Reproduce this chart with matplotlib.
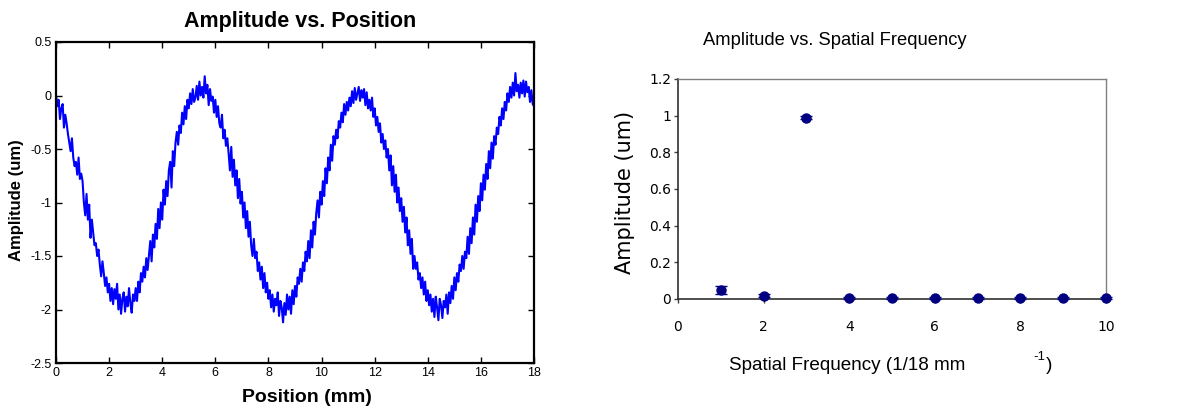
import matplotlib

matplotlib.use("Agg")
import matplotlib.pyplot as plt
import numpy as np
from matplotlib import font_manager

# left panel: measured profile, one reading every 0.05 mm from 0 to 18 mm
position_mm = np.round(np.arange(0, 18.0001, 0.05), 2)
amplitude_um = [
    0.00, -0.10, -0.04, -0.22, -0.12, -0.08, -0.30, -0.18, -0.26, -0.36,
    -0.44, -0.52, -0.40, -0.58, -0.66, -0.62, -0.74, -0.58, -0.78, -0.73,
    -0.80, -1.00, -1.12, -0.92, -1.16, -1.02, -1.33, -1.16, -1.28, -1.40,
    -1.38, -1.50, -1.44, -1.58, -1.69, -1.55, -1.66, -1.78, -1.70, -1.84,
    -1.76, -1.92, -1.80, -1.95, -1.81, -1.90, -1.76, -2.00, -1.86, -2.04,
    -1.90, -1.84, -2.02, -1.88, -1.97, -1.80, -1.94, -2.03, -1.86, -1.92,
    -1.80, -1.92, -1.74, -1.84, -1.66, -1.74, -1.60, -1.70, -1.52, -1.63,
    -1.50, -1.36, -1.55, -1.30, -1.42, -1.20, -1.34, -1.06, -1.24, -1.00,
    -1.16, -0.88, -1.02, -0.80, -0.94, -0.70, -0.62, -0.86, -0.52, -0.66,
    -0.44, -0.34, -0.46, -0.28, -0.35, -0.16, -0.27, -0.10, -0.22, -0.04,
    -0.12, 0.02, -0.08, 0.06, -0.06, -0.02, 0.09, -0.04, 0.13, 0.00,
    0.08, -0.02, 0.18, 0.02, 0.10, -0.09, 0.06, -0.05, -0.01, -0.16,
    -0.04, -0.20, -0.10, -0.26, -0.30, -0.18, -0.40, -0.32, -0.47, -0.40,
    -0.54, -0.70, -0.48, -0.76, -0.60, -0.84, -0.70, -0.96, -0.78, -1.01,
    -0.90, -1.14, -1.00, -1.24, -1.08, -1.32, -1.18, -1.40, -1.50, -1.34,
    -1.52, -1.46, -1.64, -1.56, -1.72, -1.60, -1.80, -1.66, -1.84, -1.75,
    -1.90, -1.82, -1.98, -1.86, -2.02, -1.90, -1.96, -1.84, -2.06, -1.92,
    -1.98, -2.12, -1.94, -2.05, -1.86, -2.00, -1.88, -2.04, -1.82, -1.95,
    -1.78, -1.88, -1.70, -1.76, -1.62, -1.74, -1.56, -1.64, -1.46, -1.55,
    -1.36, -1.52, -1.26, -1.42, -1.18, -1.30, -1.10, -0.98, -1.14, -0.90,
    -1.02, -0.80, -0.94, -0.68, -0.82, -0.58, -0.70, -0.46, -0.61, -0.38,
    -0.46, -0.32, -0.40, -0.24, -0.30, -0.16, -0.25, -0.08, -0.18, -0.06,
    -0.14, -0.02, -0.10, 0.04, -0.07, 0.07, -0.04, 0.02, 0.08, -0.05,
    0.05, -0.02, 0.06, -0.09, 0.03, -0.12, -0.04, -0.14, -0.02, -0.20,
    -0.12, -0.28, -0.20, -0.34, -0.26, -0.44, -0.36, -0.50, -0.42, -0.58,
    -0.50, -0.70, -0.56, -0.84, -0.66, -0.90, -0.74, -1.00, -0.86, -1.08,
    -0.96, -1.18, -1.04, -1.28, -1.14, -1.40, -1.26, -1.48, -1.34, -1.62,
    -1.50, -1.62, -1.56, -1.72, -1.66, -1.80, -1.70, -1.86, -1.74, -1.92,
    -1.82, -1.96, -1.86, -2.02, -1.90, -2.07, -1.88, -1.98, -2.10, -1.90,
    -1.96, -2.08, -1.92, -1.98, -1.86, -2.04, -1.84, -1.94, -1.78, -1.90,
    -1.70, -1.82, -1.66, -1.74, -1.58, -1.64, -1.50, -1.62, -1.46, -1.52,
    -1.32, -1.48, -1.24, -1.38, -1.14, -1.30, -1.02, -1.18, -0.94, -1.08,
    -0.82, -0.98, -0.74, -0.88, -0.64, -0.78, -0.52, -0.68, -0.44, -0.59,
    -0.38, -0.46, -0.30, -0.36, -0.20, -0.28, -0.12, -0.22, -0.06, -0.14,
    0.02, -0.06, 0.08, -0.02, 0.12, 0.00, 0.21, 0.04, 0.10, -0.02,
    0.12, 0.02, 0.14, -0.01, 0.13, 0.03, 0.08, -0.06, 0.05, -0.08,
    -0.10,
]

# right panel: spectrum
freq_index = [1, 2, 3, 4, 5, 6, 7, 8, 9, 10]
freq_amplitude = [0.049, 0.018, 0.99, 0.005, 0.005, 0.005, 0.005, 0.005, 0.005, 0.005]
freq_error = [0.022, 0.008, 0.008, 0.004, 0.004, 0.004, 0.004, 0.004, 0.004, 0.004]

W, H = 1187, 409

names = {f.name for f in font_manager.fontManager.ttflist}
if "Liberation Sans Narrow" in names:
    NARROW, NS = "Liberation Sans Narrow", 1.0
else:
    NARROW, NS = "Liberation Sans", 0.8

plt.rcParams.update(
    {
        "font.family": "Liberation Sans",
        "axes.unicode_minus": False,
    }
)

fig = plt.figure(figsize=(W / 100, H / 100), dpi=100)


def box(x0, y0, x1, y1):
    return [x0 / W, 1 - y1 / H, (x1 - x0) / W, (y1 - y0) / H]


# ---- left: amplitude vs position (MATLAB look)
ax = fig.add_axes(box(56, 42, 534, 363))
ax.plot(position_mm, amplitude_um, color="#0000ff", lw=1.5)
ax.set_xlim(0, 18)
ax.set_ylim(-2.5, 0.5)
ax.set_xticks(np.arange(0, 19, 2))
ax.set_yticks([-2.5, -2, -1.5, -1, -0.5, 0, 0.5])
ax.set_yticklabels(["-2.5", "-2", "-1.5", "-1", "-0.5", "0", "0.5"])
ax.tick_params(direction="in", top=True, right=True, length=4, width=1, labelsize=9, pad=3)
for s in ax.spines.values():
    s.set_linewidth(1.6)
fig.text(300 / W, 1 - 22 / H, "Amplitude vs. Position", ha="center", va="center",
         fontsize=15.5, fontweight="bold")
fig.text(307 / W, 1 - 397 / H, "Position (mm)", ha="center", va="center",
         fontsize=14, fontweight="bold")
fig.text(17 / W, 1 - 200 / H, "Amplitude (um)", ha="center", va="center",
         rotation=90, fontsize=12, fontweight="bold")

# ---- right: amplitude vs spatial frequency (Excel look)
ax2 = fig.add_axes(box(678, 79, 1106, 299))
ax2.errorbar(freq_index, freq_amplitude, yerr=freq_error, fmt="o", color="#000080",
             ms=6.5, mec="#000080", ecolor="#000080", elinewidth=1, capsize=4.5,
             capthick=1, clip_on=False, zorder=3)
ax2.set_xlim(0, 10)
ax2.set_ylim(0, 1.2)
ax2.set_xticks(np.arange(0, 11, 2))
ax2.set_yticks(np.arange(0, 1.21, 0.2))
ax2.set_yticklabels(["0", "0.2", "0.4", "0.6", "0.8", "1", "1.2"])
ax2.tick_params(axis="y", direction="out", length=3, width=1, labelsize=10,
                labelfontfamily="DejaVu Sans", pad=2, color="#404040")
ax2.tick_params(axis="x", direction="out", length=3, width=1, labelsize=10,
                labelfontfamily="DejaVu Sans", pad=12, color="#404040")
for side in ("top", "right"):
    ax2.spines[side].set_color("#808080")
    ax2.spines[side].set_linewidth(1)
for side in ("left", "bottom"):
    ax2.spines[side].set_color("#303030")
    ax2.spines[side].set_linewidth(1.2)

fig.text(835 / W, 1 - 45 / H, "Amplitude vs. Spatial Frequency", ha="center",
         va="baseline", fontsize=16.5 * NS, family=NARROW)
fig.text(625 / W, 1 - 192 / H, "Amplitude (um)", ha="center", va="center",
         rotation=90, fontsize=15, family="DejaVu Sans")
fig.text(729 / W, 1 - 370 / H, "Spatial Frequency (1/18 mm", ha="left",
         va="baseline", fontsize=17 * NS, family=NARROW)
fig.text(1033 / W, 1 - 360 / H, "-1", ha="left", va="baseline",
         fontsize=12 * NS, family=NARROW)
fig.text(1046 / W, 1 - 370 / H, ")", ha="left", va="baseline",
         fontsize=17 * NS, family=NARROW)

fig.savefig("out.png", dpi=100, facecolor="white")
plt.close(fig)
